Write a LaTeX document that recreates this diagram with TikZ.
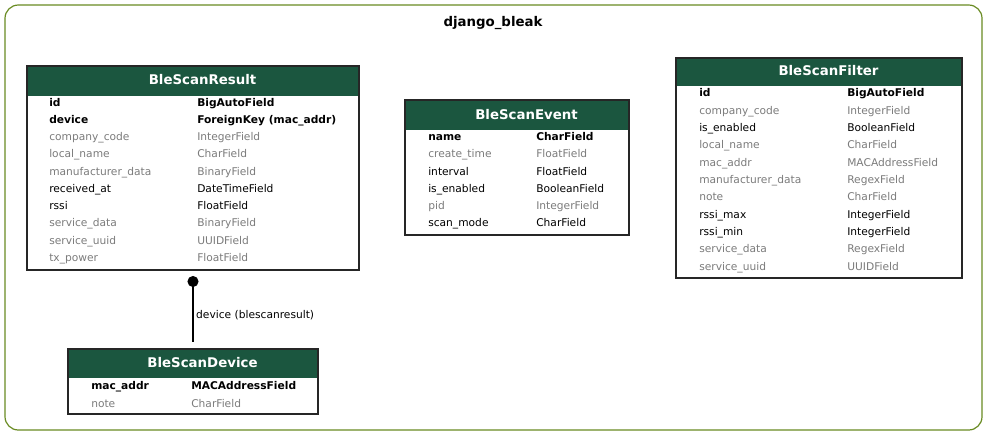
\documentclass[tikz,border=0pt]{standalone}
\usepackage{fontspec}
\setmainfont{DejaVu Sans}
\usetikzlibrary{fit,arrows.meta}
\definecolor{headgreen}{HTML}{1B563F}
\definecolor{clustergreen}{HTML}{698B22}
\definecolor{fieldgrey}{HTML}{7B7B7B}
\tikzset{
	tablebox/.style={draw=black!85,line width=1pt,inner sep=0pt},
	tablehead/.style={fill=headgreen,inner sep=0pt},
	tabletitle/.style={anchor=base,inner sep=0pt,text=white,font=\fontsize{10}{12}\selectfont\bfseries},
	fieldtext/.style={anchor=base west,inner sep=0pt,font=\fontsize{8}{10}\selectfont},
}
\begin{document}
\begin{tikzpicture}[x=0.75pt,y=-0.75pt]
		\useasboundingbox (0,0) rectangle (988,436);
		% cluster
		\draw[clustergreen,line width=0.9pt,rounded corners=10pt] (5,5) rectangle (982,430);
		\node[anchor=base,inner sep=0pt,font=\fontsize{10}{12}\selectfont\bfseries] (clustertitle) at (493,26) {django\_bleak};
		% BleScanResult
		\node[tablehead,fit={(28,67) (358,96)}] (resulthead) {};
		\node[tabletitle] (resulttitle) at (202.5,84) {BleScanResult};
		\foreach \n/\t/\c/\f [count=\i from 0] in {id/BigAutoField/black/\bfseries, device/ForeignKey (mac\_addr)/black/\bfseries, company\_code/IntegerField/fieldgrey/\mdseries, local\_name/CharField/fieldgrey/\mdseries, manufacturer\_data/BinaryField/fieldgrey/\mdseries, received\_at/DateTimeField/black/\mdseries, rssi/FloatField/black/\mdseries, service\_data/BinaryField/fieldgrey/\mdseries, service\_uuid/UUIDField/fieldgrey/\mdseries, tx\_power/FloatField/fieldgrey/\mdseries}
		{
			\node[fieldtext,text=\c] (resultname\i) at (49,{106+17.25*\i}) {\f\n};
			\node[fieldtext,text=\c] (resulttype\i) at (197,{106+17.25*\i}) {\f\t};
		}
		\node[tablebox,fit={(27,66) (359,270)}] (result) {};
		% BleScanEvent
		\node[tablehead,fit={(406,101) (628,130)}] (eventhead) {};
		\node[tabletitle] (eventtitle) at (526.5,119.5) {BleScanEvent};
		\foreach \n/\t/\c/\f [count=\i from 0] in {name/CharField/black/\bfseries, create\_time/FloatField/fieldgrey/\mdseries, interval/FloatField/black/\mdseries, is\_enabled/BooleanField/black/\mdseries, pid/IntegerField/fieldgrey/\mdseries, scan\_mode/CharField/black/\mdseries}
		{
			\node[fieldtext,text=\c] (eventname\i) at (428,{140.5+17.25*\i}) {\f\n};
			\node[fieldtext,text=\c] (eventtype\i) at (536,{140.5+17.25*\i}) {\f\t};
		}
		\node[tablebox,fit={(405,100) (629,235)}] (event) {};
		% BleScanFilter
		\node[tablehead,fit={(677,59) (961,86)}] (filterhead) {};
		\node[tabletitle] (filtertitle) at (828.5,75.5) {BleScanFilter};
		\foreach \n/\t/\c/\f [count=\i from 0] in {id/BigAutoField/black/\bfseries, company\_code/IntegerField/fieldgrey/\mdseries, is\_enabled/BooleanField/black/\mdseries, local\_name/CharField/fieldgrey/\mdseries, mac\_addr/MACAddressField/fieldgrey/\mdseries, manufacturer\_data/RegexField/fieldgrey/\mdseries, note/CharField/fieldgrey/\mdseries, rssi\_max/IntegerField/black/\mdseries, rssi\_min/IntegerField/black/\mdseries, service\_data/RegexField/fieldgrey/\mdseries, service\_uuid/UUIDField/fieldgrey/\mdseries}
		{
			\node[fieldtext,text=\c] (filtername\i) at (699,{96.7+17.35*\i}) {\f\n};
			\node[fieldtext,text=\c] (filtertype\i) at (847,{96.7+17.35*\i}) {\f\t};
		}
		\node[tablebox,fit={(676,58) (962,278)}] (filter) {};
		% BleScanDevice
		\node[tablehead,fit={(69,350) (317,378)}] (devicehead) {};
		\node[tabletitle] (devicetitle) at (202.5,367) {BleScanDevice};
		\foreach \n/\t/\c/\f [count=\i from 0] in {mac\_addr/MACAddressField/black/\bfseries, note/CharField/fieldgrey/\mdseries}
		{
			\node[fieldtext,text=\c] (devicename\i) at (91,{389.5+17.5*\i}) {\f\n};
			\node[fieldtext,text=\c] (devicetype\i) at (191,{389.5+17.5*\i}) {\f\t};
		}
		\node[tablebox,fit={(68,349) (318,414)}] (device) {};
		% relation
		\draw[line width=0.8pt,{Circle[length=8.25pt]}-,shorten <=4pt,shorten >=4.5pt] (result.south -| device.north) -- node[pos=0.57,right,inner sep=2pt,font=\fontsize{8}{10}\selectfont] (relationlabel) {device (blescanresult)} (device.north);
\end{tikzpicture}
\end{document}
